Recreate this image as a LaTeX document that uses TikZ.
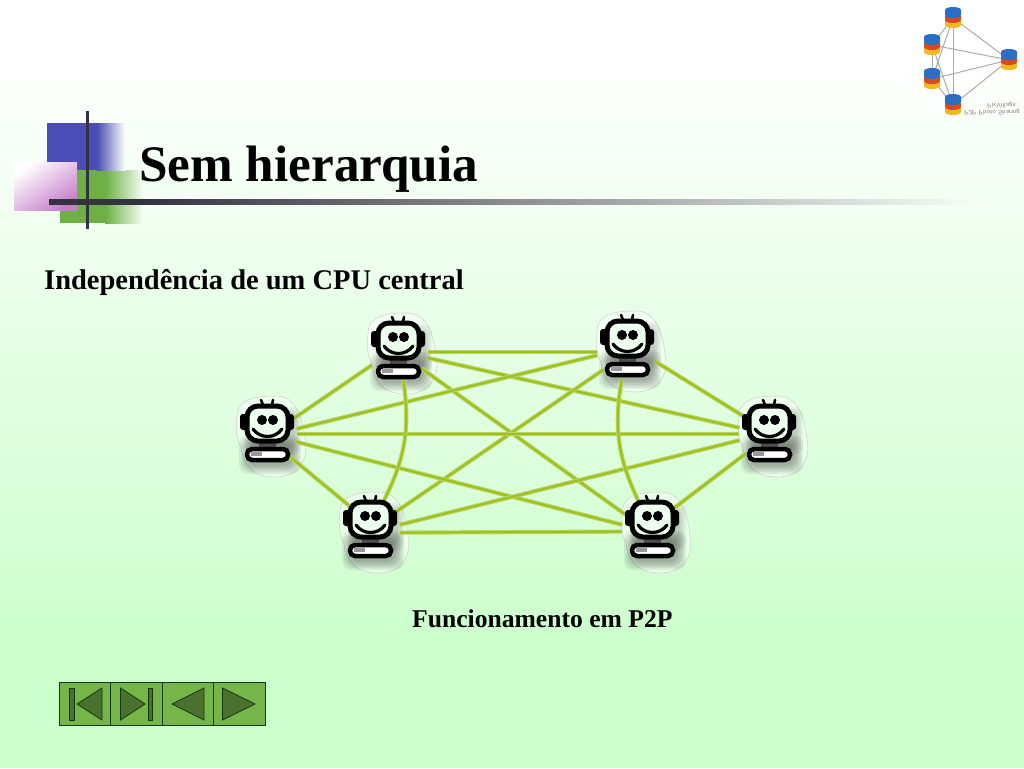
\documentclass[tikz,border=0pt]{standalone}
\usepackage{fontspec}
\setmainfont{Liberation Serif}
\tikzset{>=stealth}
\definecolor{bgmint}{HTML}{CCFFCC}
\definecolor{linkgreen}{HTML}{9CC01C}
\definecolor{linkpale}{HTML}{B9D45E}
\definecolor{barblue}{HTML}{4A4DB5}
\definecolor{bargreen}{HTML}{6DB044}
\definecolor{barpink}{HTML}{C77FCB}
\definecolor{bardark}{HTML}{333340}
\definecolor{btnfill}{HTML}{76B648}
\definecolor{btnicon}{HTML}{4C7030}
\definecolor{btnline}{HTML}{123A12}
\definecolor{cylblue}{HTML}{2B6FC4}
\definecolor{cylred}{HTML}{D9491F}
\definecolor{cylyellow}{HTML}{F2B81E}
\tikzset{
    robotspot/.style={circle, inner sep=0pt, minimum size=60pt},
    link/.style={draw=linkpale, double=linkgreen, double distance=2pt, line width=1.1pt},
    loglink/.style={gray!65, line width=1pt},
    logspot/.style={circle, inner sep=0pt, minimum size=6pt},
    btn/.style={draw=btnline, fill=btnfill, line width=0.9pt, minimum width=51.5pt, minimum height=43pt, inner sep=0pt},
    btnmark/.style={draw=btnline, fill=btnicon, line width=0.8pt},
    heading/.style={font=\fontsize{51.2}{60}\selectfont\bfseries, anchor=base west, inner sep=0pt},
    bigline/.style={font=\fontsize{28.5}{32}\selectfont\bfseries, anchor=base west, inner sep=0pt},
    caption/.style={font=\fontsize{25.6}{30}\selectfont\bfseries, anchor=base west, inner sep=0pt},
    robothalo/.pic={
        \path[fill=white, fill opacity=0.45, draw=gray!35, line width=0.6pt] (-30,-14) .. controls (-30,-32) and (-12,-35) .. (8,-35) .. controls (30,-36) and (36,-10) .. (38,8) .. controls (42,28) and (32,46) .. (8,46) .. controls (-14,46) and (-24,34) .. (-26,16) .. controls (-30,8) and (-32,0) .. (-30,-14) -- cycle;
        % soft shadow
        \foreach \s in {10,8,6,4,2}
        \fill[black, opacity=0.07, rounded corners=9pt] (-18-\s,14-\s) rectangle (24+\s,33+\s);
        \foreach \s in {8,6,4,2}
        \fill[black, opacity=0.05, rounded corners=9pt] (-14-\s,-16-\s) rectangle (26+\s,16+\s);
    },
    robotface/.pic={
        % ears and antennae
        \fill[black, rounded corners=3pt] (-27,-17) rectangle (-17,-1);
        \fill[black, rounded corners=3pt] (17,-17) rectangle (27,-1);
        \draw[black, line width=2.6pt, line cap=round] (-6,-31) -- (-4,-26) (6,-31) -- (5,-26);
        % neck
        \fill[black!70] (-8,10) rectangle (9,18);
        % head
        \draw[black, line width=5pt, fill=bgmint!35!white, rounded corners=11pt] (-20,-25) rectangle (21,10);
        \fill[black] (-5,-11) circle (5);
        \fill[black] (6,-11) circle (5);
        \draw[black, line width=3.2pt, line cap=round] (-14,-2) .. controls (-7,8) and (8,8) .. (15,-2);
        % base
        \draw[black, line width=4.5pt, fill=white, rounded corners=5pt] (-20,18) rectangle (21,29);
        \fill[gray!80] (-16,21) rectangle (-5,25);
    },
    logocyl/.pic={
        \fill[cylyellow] (-8,3) -- (-8,7) arc[start angle=180, end angle=0, x radius=8, y radius=3] -- (8,3) -- cycle;
        \fill[cylred] (-8,-2) -- (-8,2) arc[start angle=180, end angle=0, x radius=8, y radius=3] -- (8,-2) -- cycle;
        \fill[cylblue] (-8,-8) -- (-8,-3) arc[start angle=180, end angle=0, x radius=8, y radius=3] -- (8,-8) arc[start angle=0, end angle=-180, x radius=8, y radius=3] -- cycle;
    },
}
\begin{document}
\begin{tikzpicture}[x=1pt, y=-1pt]
    \useasboundingbox (0,0) rectangle (1024,768);
    \fill[white] (0,0) rectangle (1024,61);
    \shade[top color=white, bottom color=bgmint] (0,60) rectangle (1024,641);
    \fill[bgmint] (0,640) rectangle (1024,768);

    % corner decoration
    \fill[bargreen] (60,170) rectangle (106,223);
    \shade[left color=bargreen, right color=white!85!bgmint] (105,170) rectangle (144,223);
    \fill[barblue] (47,123) rectangle (98,170);
    \shade[left color=barblue, right color=white!90!bgmint] (97,123) rectangle (125,170);
    \shade[left color=white, middle color=barpink!65!white, right color=barpink, shading angle=35] (14,162) rectangle (77,210);
    \fill[bardark] (85.5,111) rectangle (89,229);
    \shade[left color=bardark, right color=white!85!bgmint] (140,199) rectangle (980,204.5);
    \fill[bardark] (49,199) rectangle (140.5,204.5);

    \node[heading] (title) at (139,181) {Sem hierarquia};
    \node[bigline] (intro) at (44,289) {Independência de um CPU central};
    \node[caption] (caption) at (412,627) {Funcionamento em P2P};

    % robots
    \node[robotspot] (tl) at (398,350) {};
    \node[robotspot] (tr) at (627,350) {};
    \node[robotspot] (lf) at (267,434) {};
    \node[robotspot] (rt) at (769,434) {};
    \node[robotspot] (bl) at (370,530) {};
    \node[robotspot] (br) at (652,530) {};

    \pic at ([yshift=2pt]tl) {robothalo};
    \pic at ([yshift=4pt]tr) {robothalo};
    \foreach \n in {lf,rt,bl,br}
    \pic at ([yshift=3pt]\n) {robothalo};

    \foreach \a/\b in {tl.-4/tr.184, tl.-15/rt.168, tl.-38/br.150, tl.210/lf.30, tr.190/lf.10, tr.220/bl.35, tr.-22/rt.145, lf.0/rt.180, lf.-15/br.170, lf.-45/bl.130, rt.192/bl.10, rt.220/br.45, bl.-5/br.183}
    \draw[link] (\a) -- (\b);
    \draw[link] (tl.-80) to[bend left=18] (bl.65);
    \draw[link] (tr.-100) to[bend right=18] (br.115);

    \pic at ([yshift=2pt]tl) {robotface};
    \pic at ([yshift=4pt]tr) {robotface};
    \foreach \n in {lf,rt,bl,br}
    \pic at ([yshift=3pt]\n) {robotface};

    % logo
    \node[logspot] (ca) at (953,18) {};
    \node[logspot] (cb) at (932,45) {};
    \node[logspot] (cc) at (1009,60) {};
    \node[logspot] (cd) at (932,79) {};
    \node[logspot] (ce) at (953,105) {};
    \foreach \a/\b in {ca/cb, ca/cc, ca/cd, ca/ce, cb/cc, cb/cd, cb/ce, cc/cd, cc/ce, cd/ce}
    \draw[loglink] (\a) -- (\b);
    \foreach \n in {ca,cb,cc,cd,ce}
    \pic at (\n) {logocyl};
    \node[font=\fontsize{6.5}{7}\selectfont\sffamily, gray, yscale=-1, align=right, inner sep=0pt] (logotext) at (992,108.5) {P2P Photo Sharing\\PixVillage :};

    % buttons
    \node[btn] (first) at (84.75,703.5) {};
    \node[btn] (last) at (136.25,703.5) {};
    \node[btn] (back) at (187.75,703.5) {};
    \node[btn] (next) at (239.25,703.5) {};
    \path[btnmark] (69,688) rectangle (74,720);
    \path[btnmark] (77,704) -- (102,688) -- (102,720) -- cycle;
    \path[btnmark] (120.5,688) -- (145,704) -- (120.5,720) -- cycle;
    \path[btnmark] (148,688) rectangle (152.5,720);
    \path[btnmark] (172,704) -- (204,688) -- (204,720) -- cycle;
    \path[btnmark] (222.5,688) -- (255,704) -- (222.5,720) -- cycle;
\end{tikzpicture}
\end{document}
